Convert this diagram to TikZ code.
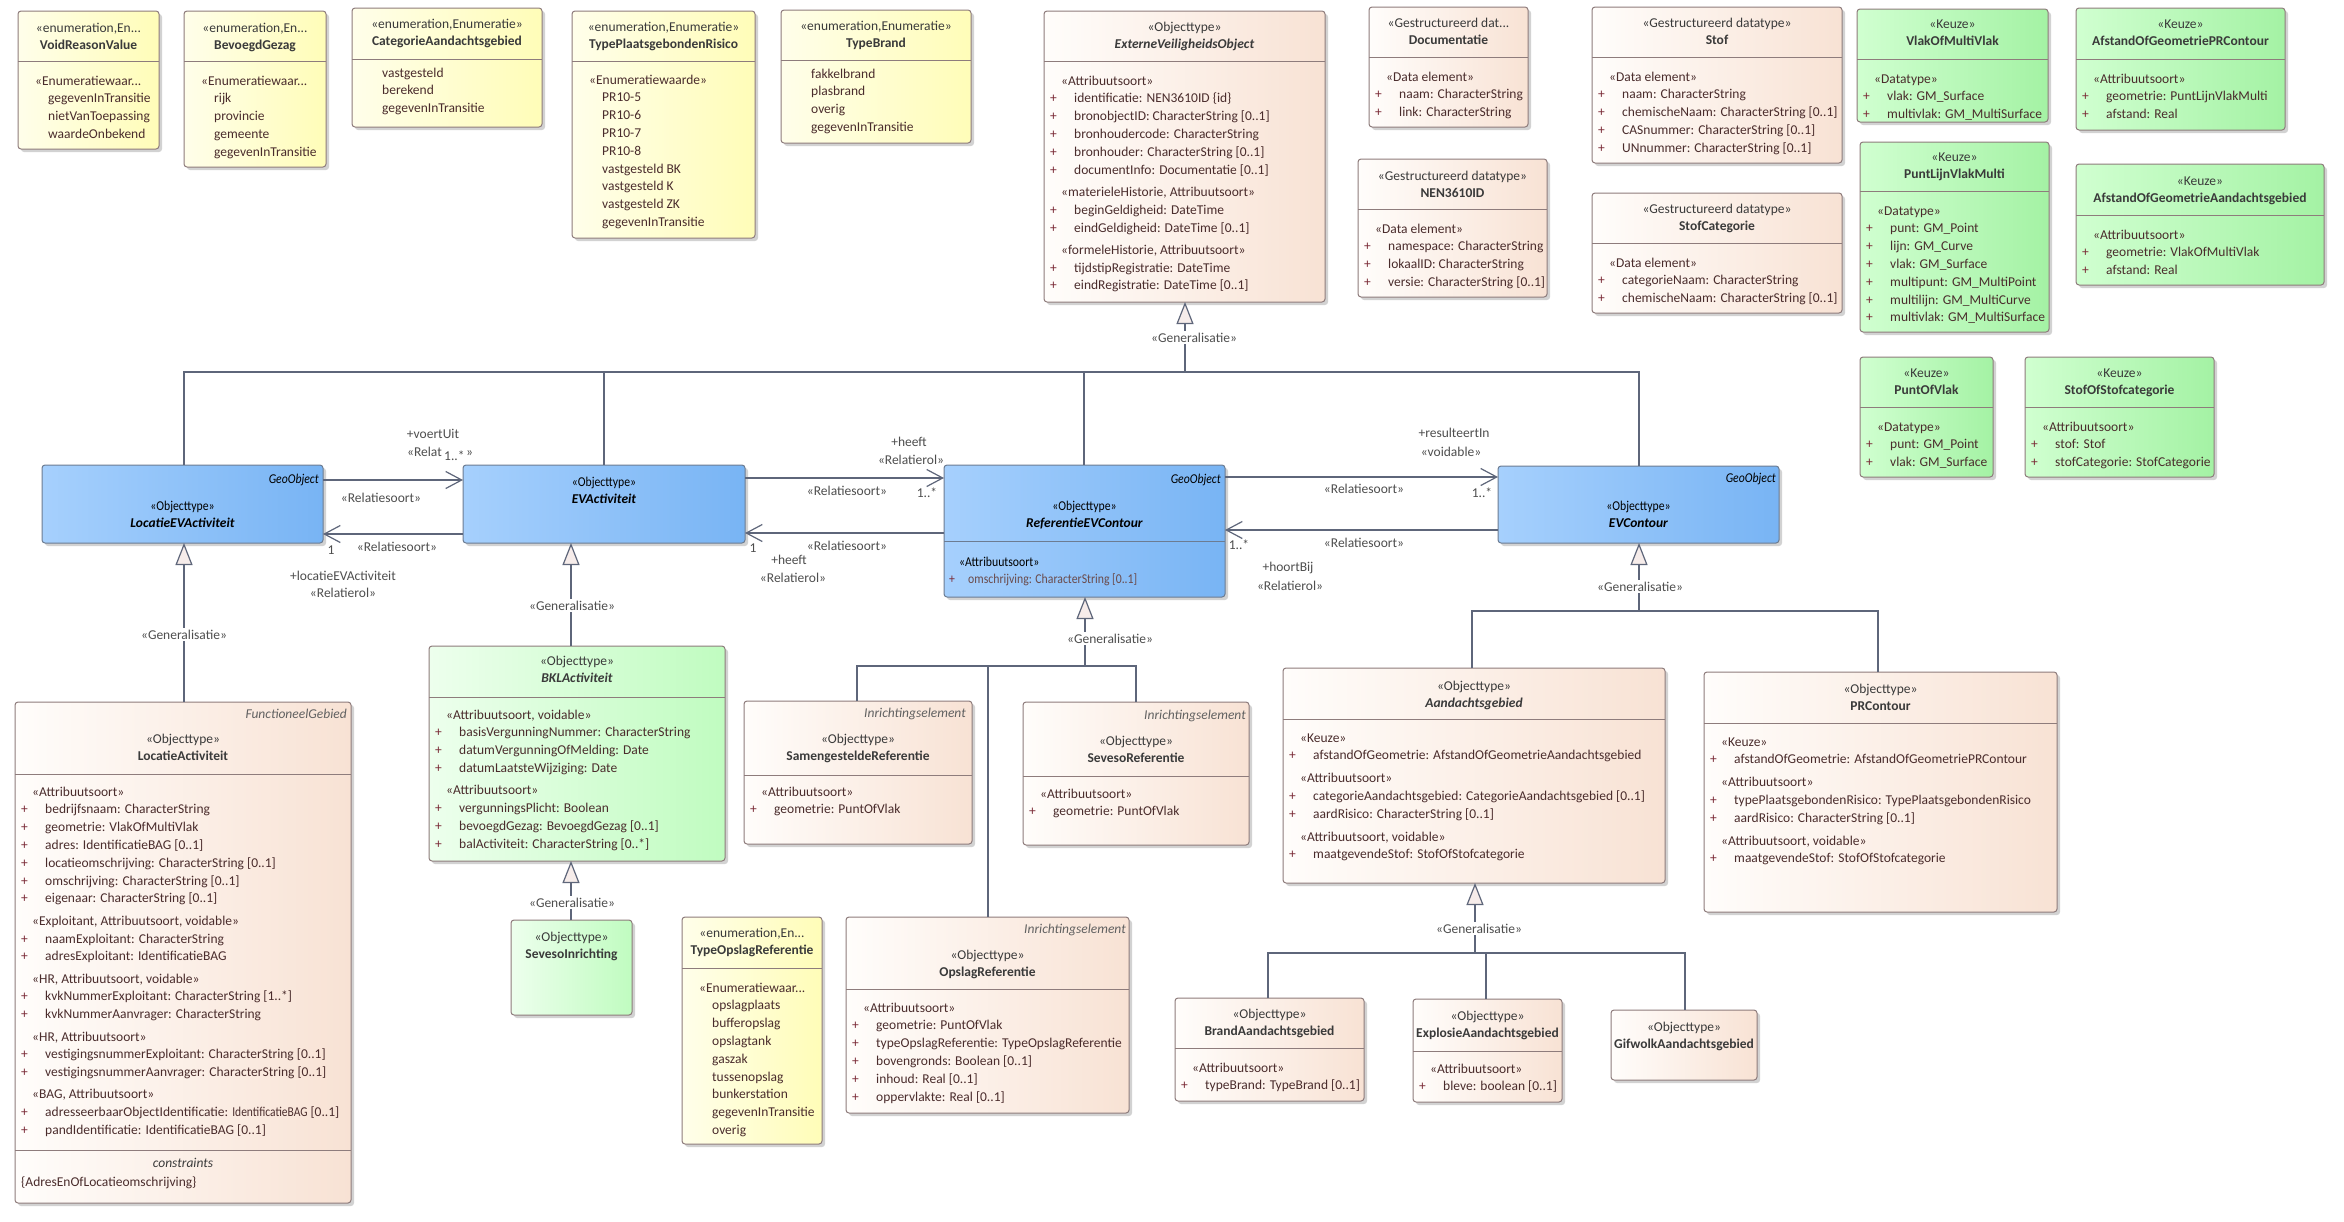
\documentclass[tikz,border=0pt]{standalone}
\usepackage{fontspec}
\usepackage{graphicx}
\setmainfont{Carlito}
\newfontfamily\narrowfont{Carlito}[FakeStretch=0.87]
\usetikzlibrary{arrows.meta}
\definecolor{yelL}{HTML}{FFFEEA}
\definecolor{yelR}{HTML}{FFFDB8}
\definecolor{peaL}{HTML}{FFFDFB}
\definecolor{peaR}{HTML}{F8E2D4}
\definecolor{grnL}{HTML}{D0FFD0}
\definecolor{grnR}{HTML}{A4F2A4}
\definecolor{lgrL}{HTML}{EDFFED}
\definecolor{lgrR}{HTML}{C0FCC0}
\definecolor{bluL}{HTML}{A6D0FD}
\definecolor{bluR}{HTML}{78B4F4}
\definecolor{bordc}{HTML}{8E7C7C}
\definecolor{bluborder}{HTML}{6C7C92}
\definecolor{hdrtext}{HTML}{3A3A3A}
\definecolor{bodytext}{HTML}{4A2C2C}
\definecolor{plusc}{HTML}{7A2A36}
\definecolor{lbltext}{HTML}{4E4E4E}
\definecolor{connc}{HTML}{5E667A}
\definecolor{genfill}{HTML}{F6ECEA}
\definecolor{shadowc}{HTML}{D2D2D2}
\definecolor{blutext}{HTML}{6A4A4A}
\newcommand\bfnt{\fontsize{13.5}{17.8}\selectfont}
\tikzset{
 ubx/.style={draw=bordc,line width=1pt,rounded corners=3pt,inner sep=0pt,outer sep=0pt},
 yel/.style={ubx,left color=yelL,right color=yelR},
 pea/.style={ubx,left color=peaL,right color=peaR},
 grn/.style={ubx,left color=grnL,right color=grnR},
 lgr/.style={ubx,left color=lgrL,right color=lgrR},
 blu/.style={ubx,draw=bluborder,left color=bluL,right color=bluR},
 hdrs/.style={anchor=north,align=center,inner sep=0pt,font=\bfnt,text=hdrtext},
 bodys/.style={anchor=north west,align=left,inner sep=0pt,font=\bfnt,text=bodytext},
 tagx/.style={anchor=base east,inner sep=0pt,font=\bfnt\itshape,text=hdrtext!80},
 lbl/.style={anchor=base,inner sep=0pt,font=\bfnt,text=lbltext},
 glbl/.style={anchor=base,inner sep=1.5pt,fill=white,font=\bfnt,text=lbltext},
 conn/.style={draw=connc,line width=1.2pt},
 assoc/.style={conn,-{Straight Barb[length=16pt,width=17pt,line width=1.2pt]}},
 gen/.style={conn,-{Triangle[length=22pt,width=17pt,fill=genfill,line width=1.2pt]}},
 divl/.style={draw=bordc,line width=1pt},
}
\newcommand\ubox[6]{%
  \fill[shadowc,rounded corners=3pt] ({#3+3},{#4+3}) rectangle ({#5+3},{#6+3});
  \node[#2,anchor=north west,minimum width={#5-#3},minimum height={#6-#4}] (#1) at (#3,#4) {};}
\newcommand\udiv[3]{\draw[divl] (#1,#3) -- (#2,#3);}
\newcommand\uhdr[5]{\node[hdrs] (#1) at (#2,{#3-8.5}) {\strut#4\\\strut\textbf{#5}};}
\newcommand\ubody[4]{\node[bodys] (#1) at ({#2+6},{#3-8.5}) {#4};}
\newcommand\pa[1]{\strut\makebox[24pt][l]{\textcolor{plusc}{+}}#1}
\newcommand\sa[1]{\strut\hspace*{11pt}#1}
\newcommand\va[1]{\strut\hspace*{24pt}#1}
\begin{document}
\begin{tikzpicture}[x=1pt,y=-1pt]
\fill[white] (0,0) rectangle (2344,1221);
\useasboundingbox (0,0) rectangle (2344,1221);

% ---------- enumerations (top row) ----------
\ubox{vrv}{yel}{18}{11}{159}{149}\udiv{18}{159}{61}
\uhdr{vrv-h}{88.5}{28}{«enumeration,En...}{VoidReasonValue}
\ubody{vrv-b}{18}{81}{\sa{«Enumeratiewaar...}\\\va{gegevenInTransitie}\\\va{nietVanToepassing}\\\va{waardeOnbekend}}

\ubox{bg}{yel}{184}{11}{326}{167}\udiv{184}{326}{61}
\uhdr{bg-h}{255}{28}{«enumeration,En...}{BevoegdGezag}
\ubody{bg-b}{184}{81}{\sa{«Enumeratiewaar...}\\\va{rijk}\\\va{provincie}\\\va{gemeente}\\\va{gegevenInTransitie}}

\ubox{cat}{yel}{352}{8}{542}{127}\udiv{352}{542}{59}
\uhdr{cat-h}{447}{24}{«enumeration,Enumeratie»}{CategorieAandachtsgebied}
\ubody{cat-b}{352}{73}{\va{vastgesteld}\\\va{berekend}\\\va{gegevenInTransitie}}

\ubox{tpr}{yel}{572}{11}{755}{238}\udiv{572}{755}{61}
\uhdr{tpr-h}{663.5}{27}{«enumeration,Enumeratie»}{TypePlaatsgebondenRisico}
\ubody{tpr-b}{572}{80}{\sa{«Enumeratiewaarde»}\\\va{PR10-5}\\\va{PR10-6}\\\va{PR10-7}\\\va{PR10-8}\\\va{vastgesteld BK}\\\va{vastgesteld K}\\\va{vastgesteld ZK}\\\va{gegevenInTransitie}}

\ubox{tb}{yel}{781}{10}{971}{143}\udiv{781}{971}{60}
\uhdr{tb-h}{876}{26}{«enumeration,Enumeratie»}{TypeBrand}
\ubody{tb-b}{781}{74}{\va{fakkelbrand}\\\va{plasbrand}\\\va{overig}\\\va{gegevenInTransitie}}

% ---------- ExterneVeiligheidsObject ----------
\ubox{evo}{pea}{1044}{11}{1325}{302}\udiv{1044}{1325}{61}
\uhdr{evo-h}{1184.5}{27}{«Objecttype»}{\textit{ExterneVeiligheidsObject}}
\ubody{evo-b}{1044}{81}{\sa{«Attribuutsoort»}\\\pa{identificatie: NEN3610ID \{id\}}\\\pa{bronobjectID: CharacterString [0..1]}\\\pa{bronhoudercode: CharacterString}\\\pa{bronhouder: CharacterString [0..1]}\\\pa{documentInfo: Documentatie [0..1]}\\[4.5pt]\sa{«materieleHistorie, Attribuutsoort»}\\\pa{beginGeldigheid: DateTime}\\\pa{eindGeldigheid: DateTime [0..1]}\\[4.5pt]\sa{«formeleHistorie, Attribuutsoort»}\\\pa{tijdstipRegistratie: DateTime}\\\pa{eindRegistratie: DateTime [0..1]}}

% ---------- datatypes ----------
\ubox{doc}{pea}{1369}{7}{1528}{127}\udiv{1369}{1528}{57}
\uhdr{doc-h}{1448.5}{23}{«Gestructureerd dat...}{Documentatie}
\ubody{doc-b}{1369}{77}{\sa{«Data element»}\\\pa{naam: CharacterString}\\\pa{link: CharacterString}}

\ubox{nen}{pea}{1358}{159}{1547}{297}\udiv{1358}{1547}{209}
\uhdr{nen-h}{1452.5}{176}{«Gestructureerd datatype»}{NEN3610ID}
\ubody{nen-b}{1358}{229}{\sa{«Data element»}\\\pa{namespace: CharacterString}\\\pa{lokaalID: CharacterString}\\\pa{versie: CharacterString [0..1]}}

\ubox{stof}{pea}{1592}{7}{1842}{163}\udiv{1592}{1842}{57}
\uhdr{stof-h}{1717}{23}{«Gestructureerd datatype»}{Stof}
\ubody{stof-b}{1592}{77}{\sa{«Data element»}\\\pa{naam: CharacterString}\\\pa{chemischeNaam: CharacterString [0..1]}\\\pa{CASnummer: CharacterString [0..1]}\\\pa{UNnummer: CharacterString [0..1]}}

\ubox{stc}{pea}{1592}{193}{1842}{313}\udiv{1592}{1842}{243}
\uhdr{stc-h}{1717}{209}{«Gestructureerd datatype»}{StofCategorie}
\ubody{stc-b}{1592}{263}{\sa{«Data element»}\\\pa{categorieNaam: CharacterString}\\\pa{chemischeNaam: CharacterString [0..1]}}

% ---------- Keuze (green) ----------
\ubox{vmv}{grn}{1857}{9}{2048}{122}\udiv{1857}{2048}{59}
\uhdr{vmv-h}{1952.5}{24}{«Keuze»}{VlakOfMultiVlak}
\ubody{vmv-b}{1857}{79}{\sa{«Datatype»}\\\pa{vlak: GM\_Surface}\\\pa{multivlak: GM\_MultiSurface}}

\ubox{agp}{grn}{2076}{8}{2285}{130}\udiv{2076}{2285}{59}
\uhdr{agp-h}{2180.5}{24}{«Keuze»}{AfstandOfGeometriePRContour}
\ubody{agp-b}{2076}{79}{\sa{«Attribuutsoort»}\\\pa{geometrie: PuntLijnVlakMulti}\\\pa{afstand: Real}}

\ubox{plv}{grn}{1860}{142}{2049}{332}\udiv{1860}{2049}{191}
\uhdr{plv-h}{1954.5}{157}{«Keuze»}{PuntLijnVlakMulti}
\ubody{plv-b}{1860}{211}{\sa{«Datatype»}\\\pa{punt: GM\_Point}\\\pa{lijn: GM\_Curve}\\\pa{vlak: GM\_Surface}\\\pa{multipunt: GM\_MultiPoint}\\\pa{multilijn: GM\_MultiCurve}\\\pa{multivlak: GM\_MultiSurface}}

\ubox{aga}{grn}{2076}{164}{2324}{285}\udiv{2076}{2324}{215}
\uhdr{aga-h}{2200}{181}{«Keuze»}{AfstandOfGeometrieAandachtsgebied}
\ubody{aga-b}{2076}{235}{\sa{«Attribuutsoort»}\\\pa{geometrie: VlakOfMultiVlak}\\\pa{afstand: Real}}

\ubox{pov}{grn}{1860}{357}{1993}{477}\udiv{1860}{1993}{407}
\uhdr{pov-h}{1926.5}{373}{«Keuze»}{PuntOfVlak}
\ubody{pov-b}{1860}{427}{\sa{«Datatype»}\\\pa{punt: GM\_Point}\\\pa{vlak: GM\_Surface}}

\ubox{sos}{grn}{2025}{357}{2214}{477}\udiv{2025}{2214}{407}
\uhdr{sos-h}{2119.5}{373}{«Keuze»}{StofOfStofcategorie}
\ubody{sos-b}{2025}{427}{\sa{«Attribuutsoort»}\\\pa{stof: Stof}\\\pa{stofCategorie: StofCategorie}}

% ---------- blue GeoObjects ----------
\ubox{locev}{blu}{42}{465}{323}{543}
\node[tagx,font=\bfnt\narrowfont\itshape,text=black] (locev-t) at (319,483) {GeoObject};
\node[hdrs,text=black] (locev-h) at (182.5,497.5) {\strut{\narrowfont «Objecttype»}\\\strut\textbf{\textit{LocatieEVActiviteit}}};

\ubox{evact}{blu}{463}{465}{745}{543}
\node[hdrs,text=black] (evact-h) at (604,473.5) {\strut{\narrowfont «Objecttype»}\\\strut\textbf{\textit{EVActiviteit}}};

\ubox{refevc}{blu}{944}{465}{1225}{597}
\draw[divl,draw=bluborder] (944,541) -- (1225,541);
\node[tagx,font=\bfnt\narrowfont\itshape,text=black] (refevc-t) at (1221,483) {GeoObject};
\node[hdrs,text=black] (refevc-h) at (1084.5,497.5) {\strut{\narrowfont «Objecttype»}\\\strut\textbf{\textit{ReferentieEVContour}}};
\node[bodys,font=\bfnt\narrowfont,text=black] (refevc-b) at (949,553.5) {\strut\hspace*{10pt}«Attribuutsoort»\\\strut\makebox[19pt][l]{\textcolor{plusc}{+}}\textcolor{blutext}{omschrijving: CharacterString [0..1]}};

\ubox{evc}{blu}{1498}{466}{1779}{543}
\node[tagx,font=\bfnt\narrowfont\itshape,text=black] (evc-t) at (1776,482) {GeoObject};
\node[hdrs,text=black] (evc-h) at (1638.5,497.5) {\strut{\narrowfont «Objecttype»}\\\strut\textbf{\textit{EVContour}}};

% ---------- LocatieActiviteit ----------
\ubox{locact}{pea}{15}{702}{351}{1203}\udiv{15}{351}{774}\udiv{15}{351}{1150}
\node[tagx] (locact-t) at (347,718) {FunctioneelGebied};
\uhdr{locact-h}{183}{739}{«Objecttype»}{LocatieActiviteit}
\ubody{locact-b}{15}{792}{\sa{«Attribuutsoort»}\\\pa{bedrijfsnaam: CharacterString}\\\pa{geometrie: VlakOfMultiVlak}\\\pa{adres: IdentificatieBAG [0..1]}\\\pa{locatieomschrijving: CharacterString [0..1]}\\\pa{omschrijving: CharacterString [0..1]}\\\pa{eigenaar: CharacterString [0..1]}\\[4.5pt]\sa{«Exploitant, Attribuutsoort, voidable»}\\\pa{naamExploitant: CharacterString}\\\pa{adresExploitant: IdentificatieBAG}\\[4.5pt]\sa{«HR, Attribuutsoort, voidable»}\\\pa{kvkNummerExploitant: CharacterString [1..*]}\\\pa{kvkNummerAanvrager: CharacterString}\\[4.5pt]\sa{«HR, Attribuutsoort»}\\\pa{vestigingsnummerExploitant: CharacterString [0..1]}\\\pa{vestigingsnummerAanvrager: CharacterString [0..1]}\\[4.5pt]\sa{«BAG, Attribuutsoort»}\\\pa{adresseerbaarObjectIdentificatie: \scalebox{0.85}[1]{IdentificatieBAG} [0..1]}\\\pa{pandIdentificatie: IdentificatieBAG [0..1]}}
\node[anchor=base,inner sep=0pt,font=\bfnt\itshape,text=hdrtext] (locact-c) at (183,1167) {constraints};
\node[anchor=base west,inner sep=0pt,font=\bfnt,text=bodytext] (locact-k) at (21,1186) {\{AdresEnOfLocatieomschrijving\}};

% ---------- BKLActiviteit / SevesoInrichting ----------
\ubox{bkl}{lgr}{429}{646}{725}{861}\udiv{429}{725}{697}
\uhdr{bkl-h}{577}{661}{«Objecttype»}{\textit{BKLActiviteit}}
\ubody{bkl-b}{429}{715}{\sa{«Attribuutsoort, voidable»}\\\pa{basisVergunningNummer: CharacterString}\\\pa{datumVergunningOfMelding: Date}\\\pa{datumLaatsteWijziging: Date}\\[4.5pt]\sa{«Attribuutsoort»}\\\pa{vergunningsPlicht: Boolean}\\\pa{bevoegdGezag: BevoegdGezag [0..1]}\\\pa{balActiviteit: CharacterString [0..*]}}

\ubox{sevi}{lgr}{511}{920}{632}{1015}
\uhdr{sevi-h}{571.5}{937}{«Objecttype»}{SevesoInrichting}

% ---------- Referentie subclasses ----------
\ubox{sam}{pea}{744}{701}{972}{844}\udiv{744}{972}{775}
\node[tagx] (sam-t) at (966,717) {Inrichtingselement};
\uhdr{sam-h}{858}{739}{«Objecttype»}{SamengesteldeReferentie}
\ubody{sam-b}{744}{792}{\sa{«Attribuutsoort»}\\\pa{geometrie: PuntOfVlak}}

\ubox{sev}{pea}{1023}{702}{1249}{845}\udiv{1023}{1249}{776}
\node[tagx] (sev-t) at (1246,719) {Inrichtingselement};
\uhdr{sev-h}{1136}{741}{«Objecttype»}{SevesoReferentie}
\ubody{sev-b}{1023}{794}{\sa{«Attribuutsoort»}\\\pa{geometrie: PuntOfVlak}}

\ubox{tor}{yel}{682}{917}{822}{1144}\udiv{682}{822}{968}
\uhdr{tor-h}{752}{933}{«enumeration,En...}{TypeOpslagReferentie}
\ubody{tor-b}{682}{988}{\sa{«Enumeratiewaar...}\\\va{opslagplaats}\\\va{bufferopslag}\\\va{opslagtank}\\\va{gaszak}\\\va{tussenopslag}\\\va{bunkerstation}\\\va{gegevenInTransitie}\\\va{overig}}

\ubox{opr}{pea}{846}{917}{1129}{1113}\udiv{846}{1129}{989}
\node[tagx] (opr-t) at (1126,933) {Inrichtingselement};
\uhdr{opr-h}{987.5}{955}{«Objecttype»}{OpslagReferentie}
\ubody{opr-b}{846}{1008}{\sa{«Attribuutsoort»}\\\pa{geometrie: PuntOfVlak}\\\pa{typeOpslagReferentie: TypeOpslagReferentie}\\\pa{bovengronds: Boolean [0..1]}\\\pa{inhoud: Real [0..1]}\\\pa{oppervlakte: Real [0..1]}}

% ---------- Aandachtsgebied / PRContour ----------
\ubox{aan}{pea}{1283}{668}{1665}{883}\udiv{1283}{1665}{719}
\uhdr{aan-h}{1474}{686}{«Objecttype»}{\textit{Aandachtsgebied}}
\ubody{aan-b}{1283}{738}{\sa{«Keuze»}\\\pa{afstandOfGeometrie: AfstandOfGeometrieAandachtsgebied}\\[5pt]\sa{«Attribuutsoort»}\\\pa{categorieAandachtsgebied: CategorieAandachtsgebied [0..1]}\\\pa{aardRisico: CharacterString [0..1]}\\[5pt]\sa{«Attribuutsoort, voidable»}\\\pa{maatgevendeStof: StofOfStofcategorie}}

\ubox{prc}{pea}{1704}{672}{2057}{912}\udiv{1704}{2057}{723}
\uhdr{prc-h}{1880.5}{689}{«Objecttype»}{PRContour}
\ubody{prc-b}{1704}{742}{\sa{«Keuze»}\\\pa{afstandOfGeometrie: AfstandOfGeometriePRContour}\\[5pt]\sa{«Attribuutsoort»}\\\pa{typePlaatsgebondenRisico: TypePlaatsgebondenRisico}\\\pa{aardRisico: CharacterString [0..1]}\\[5pt]\sa{«Attribuutsoort, voidable»}\\\pa{maatgevendeStof: StofOfStofcategorie}}

\ubox{brand}{pea}{1175}{998}{1364}{1101}\udiv{1175}{1364}{1048}
\uhdr{brand-h}{1269.5}{1014}{«Objecttype»}{BrandAandachtsgebied}
\ubody{brand-b}{1175}{1068}{\sa{«Attribuutsoort»}\\\pa{typeBrand: TypeBrand [0..1]}}

\ubox{expl}{pea}{1413}{999}{1562}{1102}\udiv{1413}{1562}{1051}
\uhdr{expl-h}{1487.5}{1016}{«Objecttype»}{ExplosieAandachtsgebied}
\ubody{expl-b}{1413}{1069}{\sa{«Attribuutsoort»}\\\pa{bleve: boolean [0..1]}}

\ubox{gif}{pea}{1611}{1010}{1757}{1080}
\uhdr{gif-h}{1684}{1027}{«Objecttype»}{GifwolkAandachtsgebied}

% ---------- generalisation connectors ----------
\coordinate (g1) at (1185,372);
\coordinate (g1a) at (184,372);
\coordinate (g1b) at (604,372);
\coordinate (g1c) at (1084,372);
\coordinate (g1d) at (1639,372);
\draw[conn] (g1a |- locev.north) -- (g1a) -- (g1d) -- (g1d |- evc.north);
\draw[conn] (g1b) -- (g1b |- evact.north);
\draw[conn] (g1c) -- (g1c |- refevc.north);
\draw[gen] (g1) -- (g1 |- evo.south);

\coordinate (g2) at (184,600);
\draw[gen] (g2 |- locact.north) -- (g2 |- locev.south);
\coordinate (g3) at (571,700);
\draw[gen] (g3 |- bkl.north) -- (g3 |- evact.south);
\draw[gen] (g3 |- sevi.north) -- (g3 |- bkl.south);

\coordinate (g5) at (1085,666);
\coordinate (g5a) at (857,666);
\coordinate (g5b) at (988,666);
\coordinate (g5c) at (1136,666);
\draw[conn] (g5a |- sam.north) -- (g5a) -- (g5c) -- (g5c |- sev.north);
\draw[conn] (g5b) -- (g5b |- opr.north);
\draw[gen] (g5) -- (g5 |- refevc.south);

\coordinate (g6) at (1639,611);
\coordinate (g6a) at (1472,611);
\coordinate (g6b) at (1878,611);
\draw[conn] (g6a |- aan.north) -- (g6a) -- (g6b) -- (g6b |- prc.north);
\draw[gen] (g6) -- (g6 |- evc.south);

\coordinate (g7) at (1475,953);
\coordinate (g7a) at (1268,953);
\coordinate (g7b) at (1486,953);
\coordinate (g7c) at (1685,953);
\draw[conn] (g7a |- brand.north) -- (g7a) -- (g7c) -- (g7c |- gif.north);
\draw[conn] (g7b) -- (g7b |- expl.north);
\draw[gen] (g7) -- (g7 |- aan.south);

\node[glbl] (gl1) at (1194,342) {«Generalisatie»};
\node[glbl] (gl2) at (184,639) {«Generalisatie»};
\node[glbl] (gl3) at (572,610) {«Generalisatie»};
\node[glbl] (gl4) at (572,907) {«Generalisatie»};
\node[glbl] (gl5) at (1110,643) {«Generalisatie»};
\node[glbl] (gl6) at (1640,591) {«Generalisatie»};
\node[glbl] (gl7) at (1479,933) {«Generalisatie»};

% ---------- associations ----------
\coordinate (ya) at (0,480);
\coordinate (yb) at (0,534);
\coordinate (yc) at (0,478);
\coordinate (yd) at (0,533);
\coordinate (ye) at (0,477);
\coordinate (yf) at (0,530);
\draw[assoc] (locev.east |- ya) -- (evact.west |- ya);
\draw[assoc] (evact.west |- yb) -- (locev.east |- yb);
\draw[assoc] (evact.east |- yc) -- (refevc.west |- yc);
\draw[assoc] (refevc.west |- yd) -- (evact.east |- yd);
\draw[assoc] (refevc.east |- ye) -- (evc.west |- ye);
\draw[assoc] (evc.west |- yf) -- (refevc.east |- yf);

\node[lbl] (lb1) at (433,438) {+voertUit};
\node[lbl,anchor=base east] (lb2) at (442,456) {«Relat};
\node[lbl,anchor=base west] (lb3) at (444,460) {1..*};
\node[lbl,anchor=base west] (lb4) at (466,456) {»};
\node[lbl] (lb5) at (381,502) {«Relatiesoort»};
\node[lbl] (lb6) at (331,554) {1};
\node[lbl] (lb7) at (397,551) {«Relatiesoort»};
\node[lbl] (lb8) at (343,580) {+locatieEVActiviteit};
\node[lbl] (lb9) at (343,597) {«Relatierol»};
\node[lbl] (lb10) at (909,446) {+heeft};
\node[lbl] (lb11) at (911,464) {«Relatierol»};
\node[lbl] (lb12) at (847,495) {«Relatiesoort»};
\node[lbl] (lb13) at (927,497) {1..*};
\node[lbl] (lb14) at (753,552) {1};
\node[lbl] (lb15) at (847,550) {«Relatiesoort»};
\node[lbl] (lb16) at (789,564) {+heeft};
\node[lbl] (lb17) at (793,582) {«Relatierol»};
\node[lbl] (lb18) at (1454,437) {+resulteertIn};
\node[lbl] (lb19) at (1451,456) {«voidable»};
\node[lbl] (lb20) at (1364,493) {«Relatiesoort»};
\node[lbl] (lb21) at (1482,497) {1..*};
\node[lbl] (lb22) at (1239,549) {1..*};
\node[lbl] (lb23) at (1364,547) {«Relatiesoort»};
\node[lbl] (lb24) at (1288,571) {+hoortBij};
\node[lbl] (lb25) at (1290,590) {«Relatierol»};
\end{tikzpicture}
\end{document}
